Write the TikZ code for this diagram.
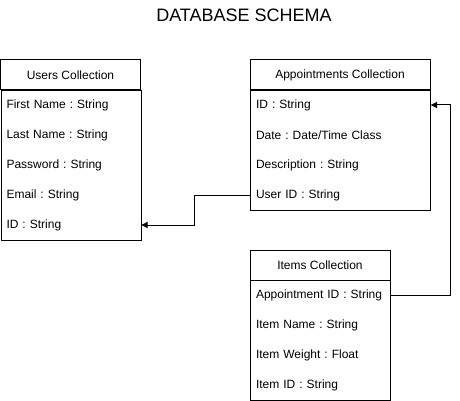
\documentclass[tikz,border=0pt]{standalone}
\usepackage{fontspec}
\setmainfont{Liberation Sans}
\frenchspacing
\usetikzlibrary{arrows.meta}
\tikzset{
  header/.style={draw, line width=1pt, minimum height=30pt, inner sep=0pt,
    font=\fontsize{12}{14}\selectfont},
  bodybox/.style={draw, line width=1pt, anchor=north west, inner sep=0pt},
  field/.style={minimum height=30pt, inner xsep=6pt, inner ysep=0pt, align=left,
    font=\fontsize{12}{14}\selectfont},
  link/.style={line width=1pt, -{Latex[length=7pt,width=7pt]}}
}
\begin{document}
\begin{tikzpicture}[x=1pt,y=-1pt]
      \useasboundingbox (0,0) rectangle (460,401);
      \node[font=\fontsize{18}{21}\selectfont] (title) at (244,15) {DATABASE SCHEMA};
      % users
      \node[header, minimum width=140pt] (users) at (70.5,75) {Users Collection};
      \node[bodybox, minimum width=140pt, minimum height=150pt] (usersbody) at (0.5,90) {};
      \draw
        (70.5,105) node[field, text width=128pt] (ufirst){First Name : String}
        (70.5,135) node[field, text width=128pt] (ulast){Last Name : String}
        (70.5,165) node[field, text width=128pt] (upass){Password : String}
        (70.5,195) node[field, text width=128pt] (uemail){Email : String}
        (70.5,225) node[field, text width=128pt] (uid){ID : String};
      % appointments
      \node[header, minimum width=180pt] (appts) at (340,75) {Appointments Collection};
      \node[bodybox, minimum width=180pt, minimum height=120pt] (apptsbody) at (250,90) {};
      \draw
        (340,105) node[field, text width=168pt] (aid){ID : String}
        (340,135) node[field, text width=168pt] (adate){Date : Date/Time Class}
        (340,165) node[field, text width=168pt] (adesc){Description : String}
        (340,195) node[field, text width=168pt] (auser){User ID : String};
      % items
      \node[header, minimum width=140pt] (items) at (320,265) {Items Collection};
      \node[bodybox, minimum width=140pt, minimum height=120pt] (itemsbody) at (250,280) {};
      \draw
        (320,295) node[field, text width=128pt] (iappt){Appointment ID : String}
        (320,325) node[field, text width=128pt] (iname){Item Name : String}
        (320,355) node[field, text width=128pt] (iweight){Item Weight : Float}
        (320,385) node[field, text width=128pt] (iid){Item ID : String};
      \begin{scope}[link]
        \draw (auser.west) -- ++(-55,0) |- (uid.east);
        \draw (iappt.east) -- ++(60,0) |- (aid.east);
      \end{scope}
    \end{tikzpicture}
\end{document}
